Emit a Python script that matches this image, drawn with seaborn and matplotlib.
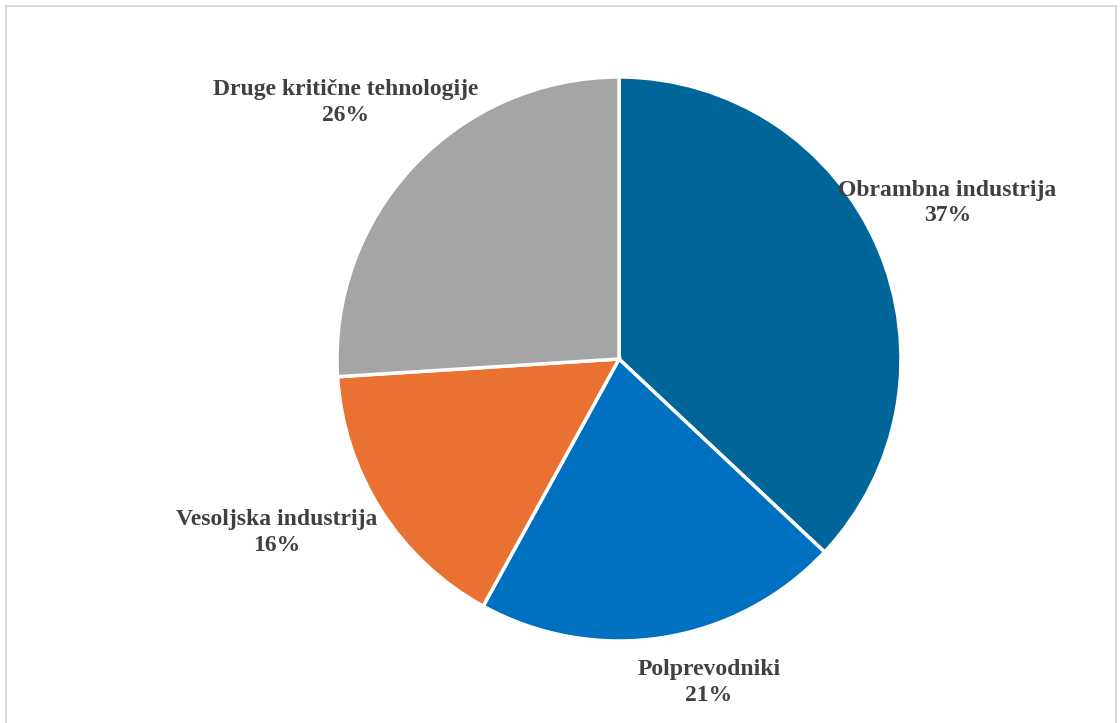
import numpy as np
import matplotlib
matplotlib.use("Agg")
import matplotlib.pyplot as plt
import seaborn as sns
from matplotlib.patches import Rectangle

# Podatki
categories = ["Obrambna industrija", "Polprevodniki", "Vesoljska industrija", "Druge kritične tehnologije"]
shares = [37, 21, 16, 26]
colors = ["#006699", "#0070C0", "#E97132", "#A5A5A5"]

# Postavitev oznak (radialni faktor, zamik kota v stopinjah)
label_radius = [1.29, 1.19, 1.36, 1.33]
label_angle_shift = [2.0, 6.5, -5.5, 0.0]

sns.set_theme(style="white")
plt.rcParams["font.family"] = ["Liberation Serif", "DejaVu Serif"]

fig = plt.figure(figsize=(11.2, 7.23), dpi=100)
ax = fig.add_axes([0, 0, 1, 1])

cx, cy, r = 619, 723 - 359, 282
wedges, _ = ax.pie(shares, colors=colors, startangle=90, counterclock=False,
                   center=(cx, cy), radius=r, frame=True,
                   wedgeprops=dict(edgecolor="white", linewidth=2.5))
ax.set_xlim(0, 1120)
ax.set_ylim(0, 723)
ax.set_aspect("equal")
ax.axis("off")

for w, name, val, f, da in zip(wedges, categories, shares, label_radius, label_angle_shift):
    theta = np.deg2rad((w.theta1 + w.theta2) / 2 + da)
    x = cx + f * r * np.cos(theta)
    y = cy + f * r * np.sin(theta)
    ax.text(x, y, f"{name}\n{val}%", ha="center", va="center", fontsize=17,
            fontweight="bold", color="#404040", linespacing=1.3)

# okvir grafikona
fig.patches.append(Rectangle((6 / 1120, -0.01), 1110 / 1120, (723 - 6) / 723 + 0.01,
                             transform=fig.transFigure, fill=False,
                             edgecolor="#D9D9D9", linewidth=1.5))

fig.savefig("out.png", dpi=100, facecolor="white")
